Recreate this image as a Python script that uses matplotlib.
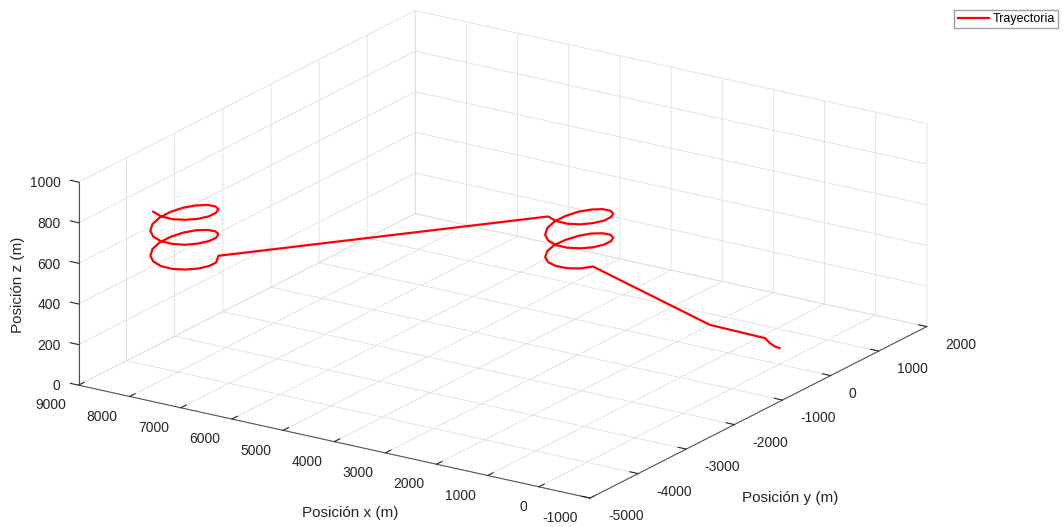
import numpy as np
import matplotlib
matplotlib.use("Agg")
import matplotlib.pyplot as plt
from matplotlib.lines import Line2D

# ---------------- data ----------------
approach_x = [0, 75, 207, 355, 1186]
approach_y = [0, -14, 23, 76, -182]
approach_z = [80, 85, 90, 100, 150]

loiter1_x = [3852, 3957, 4114, 4300, 4486, 4643, 4748, 4785, 4748, 4643, 4486, 4300, 4114, 3957, 3852, 3815,
             3852, 3957, 4114, 4300, 4486, 4643, 4748, 4785, 4748, 4643, 4486, 4300, 4114, 3957, 3852, 3815,
             3852, 3957, 4114, 4300, 4486]
loiter1_y = [224, 67, -38, -75, -38, 67, 224, 410, 596, 753, 858, 895, 858, 753, 596, 410,
             224, 67, -38, -75, -38, 67, 224, 410, 596, 753, 858, 895, 858, 753, 596, 410,
             224, 67, -38, -75, -38]
loiter1_z = [240, 244, 249, 254, 258, 262, 267, 272, 276, 283, 291, 298, 306, 313, 320, 328,
             335, 343, 350, 357, 365, 372, 380, 387, 394, 402, 409, 417, 424, 431, 439, 446,
             454, 461, 468, 476, 483]

loiter2_x = [7707,
             7602, 7565, 7602, 7707, 7864, 8050, 8236, 8393, 8498, 8535, 8498, 8393, 8236, 8050, 7864, 7707,
             7602, 7565, 7602, 7707, 7864, 8050, 8236, 8393, 8498, 8535, 8498, 8393, 8236, 8050, 7864, 7707,
             7602, 7565, 7602, 7707, 7864, 8050, 8236]
loiter2_y = [-3467,
             -3624, -3810, -3996, -4153, -4258, -4295, -4258, -4153, -3996, -3810, -3624, -3467, -3362, -3325, -3362, -3467,
             -3624, -3810, -3996, -4153, -4258, -4295, -4258, -4153, -3996, -3810, -3624, -3467, -3362, -3325, -3362, -3467,
             -3624, -3810, -3996, -4153, -4258, -4295, -4258]
loiter2_z = [524,
             516, 523, 531, 539, 546, 554, 562, 569, 577, 585, 592, 600, 608, 615, 623, 631,
             638, 646, 654, 661, 669, 677, 684, 692, 700, 707, 715, 723, 730, 738, 746, 753,
             761, 768, 776, 784, 791, 799, 807]

x_ticks = [-1000, 0, 1000, 2000, 3000, 4000, 5000, 6000, 7000, 8000, 9000]
y_ticks = [-5000, -4000, -3000, -2000, -1000, 0, 1000, 2000]
z_ticks = [0, 200, 400, 600, 800, 1000]
x_label = "Posición x (m)"
y_label = "Posición y (m)"
z_label = "Posición z (m)"
legend_label = "Trayectoria"

# ---------------- style ----------------
plt.rcParams.update({
    "font.family": ["Liberation Sans", "DejaVu Sans"],
    "axes.unicode_minus": False,
    "grid.color": "#dfdfdf",
    "grid.linewidth": 0.6,
})

W, H = 1064, 527
fig = plt.figure(figsize=(W / 100, H / 100), dpi=100, facecolor="white")
ax = fig.add_axes([0.05425, -0.32687, 0.81433, 1.64411], projection="3d", proj_type="ortho")
ax.set_xlim(9000, -1000)
ax.set_ylim(-5000, 2000)
ax.set_zlim(0, 1000)
ax.set_box_aspect((1, 1, 0.352))
ax.view_init(elev=19.59, azim=-56.64)
ax.set_xticks(x_ticks)
ax.set_yticks(y_ticks)
ax.set_zticks(z_ticks)
ax.zaxis.set_ticks_position("lower")
# z tick marks run along the x direction, as in the reference
ax.zaxis._get_tickdir = lambda position: 0

for axis in (ax.xaxis, ax.yaxis, ax.zaxis):
    axis.set_pane_color((1, 1, 1, 0))
    axis.pane.set_edgecolor("#dfdfdf")
    axis.line.set_color("#555555")
    axis.line.set_linewidth(0.8)
    axis._axinfo["tick"]["inward_factor"] = 0.0
    axis._axinfo["tick"]["outward_factor"] = 0.2
    axis._axinfo["grid"]["color"] = "#dfdfdf"
    axis._axinfo["grid"]["linewidth"] = 0.6
ax.tick_params(labelsize=10, colors="#262626")
ax.zaxis.set_tick_params(pad=-1.1)
plt.setp(ax.get_xticklabels(), ha="right")
plt.setp(ax.get_yticklabels(), ha="left")
plt.setp(ax.get_zticklabels(), ha="right", va="center")

path_x = approach_x + loiter1_x + loiter2_x
path_y = approach_y + loiter1_y + loiter2_y
path_z = approach_z + loiter1_z + loiter2_z
ax.plot(path_x, path_y, path_z, color="red", lw=1.6)

fig.text(350 / W, 1 - 513 / H, x_label, ha="center", va="center", fontsize=11, color="#262626")
fig.text(790.5 / W, 1 - 498.3 / H, y_label, ha="center", va="center", fontsize=11, color="#262626")
fig.text(18.3 / W, 1 - 285 / H, z_label, ha="center", va="center", rotation=90, fontsize=11, color="#262626")

handle = Line2D([], [], color="red", lw=1.6)
fig.legend([handle], [legend_label], loc="upper right", bbox_to_anchor=(1058 / W, 1 - 10 / H),
           fontsize=9, frameon=True, fancybox=False, edgecolor="#a0a0a0", framealpha=1,
           borderpad=0.25, handlelength=2.5, handletextpad=0.3, borderaxespad=0)

fig.savefig("out.png", dpi=100, facecolor="white")
